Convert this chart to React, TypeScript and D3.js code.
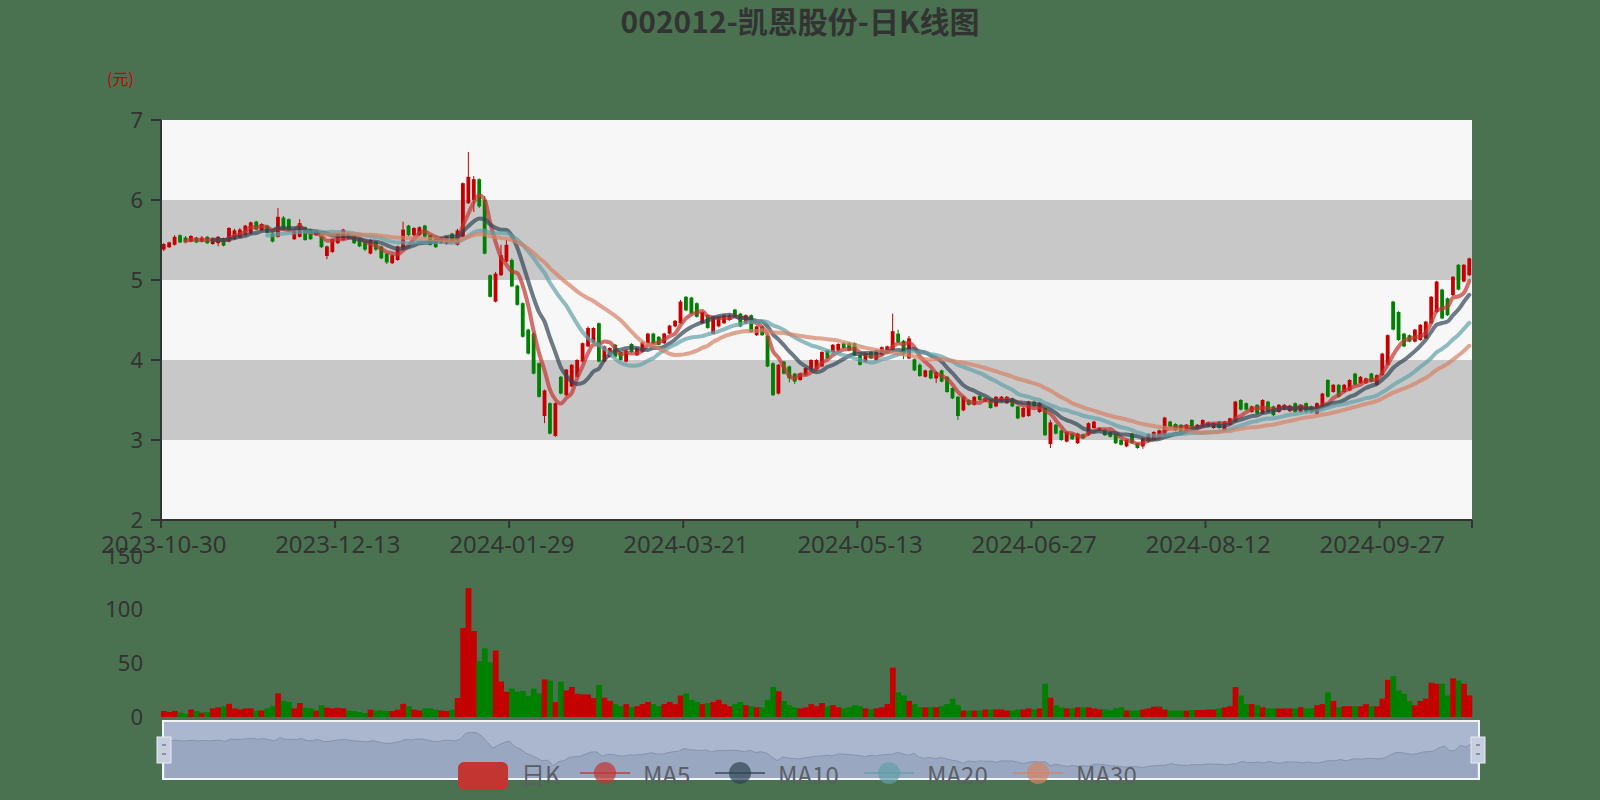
import React from 'react';
import * as d3 from 'd3';

// ---------- data ----------
const TITLE = '002012-凯恩股份-日K线图';
const UNIT = '(元)';
const START_DATE = '2023-10-30';
const HOLIDAYS = [
  '2024-01-01', '2024-02-09', '2024-02-12', '2024-02-13', '2024-02-14', '2024-02-15', '2024-02-16',
  '2024-04-04', '2024-04-05', '2024-05-01', '2024-05-02', '2024-05-03', '2024-06-10',
  '2024-09-16', '2024-09-17', '2024-10-01', '2024-10-02', '2024-10-03', '2024-10-04', '2024-10-07',
];
const LABEL_INTERVAL = 32;
const PRICE_TICKS = [2, 3, 4, 5, 6, 7];
const VOL_TICKS = [0, 50, 100, 150];
const LEGEND_NAMES = ['日K', 'MA5', 'MA10', 'MA20', 'MA30'];
const MA_PERIODS = [5, 10, 20, 30];

const OPEN = [
  5.38, 5.41, 5.44, 5.56, 5.53, 5.48, 5.53, 5.48, 5.54, 5.45,
  5.46, 5.52, 5.48, 5.51, 5.53, 5.56, 5.58, 5.73, 5.62, 5.68,
  5.58, 5.54, 5.78, 5.76, 5.51, 5.54, 5.66, 5.63, 5.56, 5.56,
  5.30, 5.35, 5.46, 5.50, 5.58, 5.56, 5.52, 5.48, 5.33, 5.48,
  5.42, 5.33, 5.21, 5.25, 5.38, 5.68, 5.56, 5.56, 5.68, 5.56,
  5.53, 5.46, 5.45, 5.58, 5.44, 5.54, 5.96, 6.00, 6.26, 6.00,
  5.06, 4.73, 5.06, 5.23, 5.25, 4.93, 4.71, 4.38, 4.33, 3.96,
  3.30, 3.46, 3.05, 3.79, 3.56, 3.67, 3.79, 3.98, 4.17, 4.22,
  4.46, 3.98, 4.04, 4.19, 4.10, 3.98, 4.20, 4.06, 4.10, 4.21,
  4.33, 4.29, 4.21, 4.33, 4.42, 4.46, 4.79, 4.78, 4.71, 4.46,
  4.56, 4.33, 4.42, 4.46, 4.50, 4.63, 4.58, 4.46, 4.56, 4.31,
  4.42, 4.30, 3.96, 3.58, 3.98, 3.92, 3.83, 3.75, 3.81, 3.88,
  3.88, 3.92, 4.12, 4.10, 4.12, 4.21, 4.21, 4.21, 4.06, 3.98,
  4.10, 4.00, 4.06, 4.08, 4.13, 4.33, 4.24, 4.02, 4.01, 3.94,
  3.79, 3.87, 3.77, 3.87, 3.79, 3.65, 3.54, 3.37, 3.50, 3.44,
  3.55, 3.48, 3.51, 3.42, 3.48, 3.46, 3.52, 3.42, 3.29, 3.30,
  3.48, 3.35, 3.40, 2.95, 3.19, 3.12, 2.98, 3.08, 2.96, 3.07,
  3.06, 3.15, 3.12, 3.13, 3.10, 3.07, 3.00, 2.92, 3.08, 2.96,
  2.92, 2.98, 3.00, 3.02, 3.06, 3.23, 3.20, 3.19, 3.10, 3.25,
  3.15, 3.17, 3.17, 3.15, 3.23, 3.12, 3.19, 3.23, 3.50, 3.46,
  3.35, 3.44, 3.33, 3.48, 3.42, 3.35, 3.38, 3.36, 3.46, 3.35,
  3.46, 3.42, 3.33, 3.42, 3.75, 3.60, 3.69, 3.60, 3.62, 3.83,
  3.71, 3.71, 3.83, 3.69, 3.81, 3.94, 4.73, 4.60, 4.33, 4.31,
  4.23, 4.25, 4.27, 4.46, 4.60, 4.88, 4.77, 4.81, 5.19, 4.98,
  5.06,
];
const CLOSE = [
  5.45, 5.47, 5.54, 5.47, 5.48, 5.55, 5.47, 5.53, 5.46, 5.52,
  5.54, 5.43, 5.65, 5.62, 5.63, 5.68, 5.72, 5.63, 5.70, 5.59,
  5.48, 5.79, 5.63, 5.62, 5.62, 5.71, 5.50, 5.51, 5.62, 5.41,
  5.42, 5.51, 5.58, 5.63, 5.51, 5.46, 5.42, 5.38, 5.50, 5.38,
  5.27, 5.22, 5.31, 5.42, 5.63, 5.56, 5.65, 5.66, 5.54, 5.44,
  5.41, 5.53, 5.54, 5.48, 5.62, 6.21, 6.29, 6.26, 5.92, 5.33,
  4.79, 5.08, 5.31, 5.44, 4.92, 4.69, 4.29, 4.08, 3.83, 3.54,
  3.62, 3.08, 3.46, 3.58, 3.88, 3.94, 4.00, 4.21, 4.40, 4.40,
  3.98, 4.17, 4.15, 4.04, 4.00, 4.12, 4.10, 4.15, 4.22, 4.33,
  4.21, 4.19, 4.33, 4.43, 4.49, 4.73, 4.62, 4.58, 4.54, 4.60,
  4.40, 4.54, 4.54, 4.56, 4.56, 4.54, 4.42, 4.56, 4.35, 4.42,
  4.31, 3.92, 3.56, 3.94, 3.83, 3.77, 3.73, 3.83, 3.90, 4.00,
  4.00, 4.10, 4.02, 4.19, 4.20, 4.15, 4.12, 4.06, 3.94, 4.08,
  4.02, 4.12, 4.16, 4.17, 4.36, 4.22, 4.07, 4.27, 3.87, 3.80,
  3.87, 3.77, 3.85, 3.73, 3.60, 3.52, 3.30, 3.54, 3.44, 3.54,
  3.50, 3.52, 3.40, 3.54, 3.54, 3.54, 3.42, 3.27, 3.40, 3.48,
  3.42, 3.46, 3.06, 3.22, 3.08, 3.00, 3.10, 3.01, 3.08, 3.02,
  3.21, 3.23, 3.15, 3.06, 3.04, 2.96, 2.94, 3.00, 2.96, 2.90,
  3.02, 3.07, 3.10, 3.12, 3.28, 3.17, 3.12, 3.10, 3.19, 3.16,
  3.19, 3.25, 3.22, 3.21, 3.15, 3.23, 3.27, 3.48, 3.38, 3.38,
  3.42, 3.33, 3.50, 3.35, 3.31, 3.44, 3.44, 3.43, 3.35, 3.44,
  3.35, 3.35, 3.46, 3.58, 3.54, 3.69, 3.54, 3.69, 3.75, 3.69,
  3.79, 3.77, 3.73, 3.81, 4.08, 4.31, 4.38, 4.25, 4.17, 4.23,
  4.38, 4.44, 4.48, 4.79, 4.98, 4.52, 4.56, 5.04, 4.88, 5.19,
  5.27,
];
const LOW = [
  5.36, 5.40, 5.43, 5.46, 5.47, 5.47, 5.46, 5.47, 5.45, 5.44,
  5.42, 5.42, 5.47, 5.50, 5.52, 5.55, 5.57, 5.62, 5.61, 5.58,
  5.47, 5.53, 5.62, 5.61, 5.50, 5.53, 5.49, 5.50, 5.55, 5.40,
  5.26, 5.34, 5.45, 5.49, 5.50, 5.45, 5.41, 5.36, 5.32, 5.36,
  5.26, 5.20, 5.20, 5.24, 5.36, 5.55, 5.55, 5.55, 5.53, 5.43,
  5.40, 5.45, 5.44, 5.47, 5.43, 5.53, 5.95, 5.85, 5.90, 5.32,
  4.78, 4.72, 5.05, 5.22, 4.91, 4.68, 4.28, 4.07, 3.82, 3.53,
  3.21, 3.07, 3.04, 3.57, 3.55, 3.66, 3.78, 3.97, 4.16, 4.21,
  3.97, 3.97, 4.03, 4.03, 3.99, 3.97, 4.09, 4.05, 4.09, 4.20,
  4.20, 4.18, 4.20, 4.32, 4.41, 4.45, 4.61, 4.57, 4.53, 4.45,
  4.39, 4.32, 4.41, 4.45, 4.49, 4.53, 4.41, 4.45, 4.34, 4.30,
  4.30, 3.91, 3.55, 3.57, 3.82, 3.72, 3.70, 3.74, 3.80, 3.85,
  3.87, 3.91, 4.01, 4.09, 4.11, 4.14, 4.11, 4.05, 3.93, 3.97,
  4.01, 3.99, 4.05, 4.07, 4.12, 4.21, 4.01, 4.01, 3.86, 3.79,
  3.78, 3.76, 3.71, 3.72, 3.59, 3.51, 3.25, 3.36, 3.43, 3.43,
  3.49, 3.47, 3.39, 3.41, 3.47, 3.45, 3.41, 3.26, 3.28, 3.29,
  3.41, 3.34, 3.05, 2.90, 3.07, 2.99, 2.97, 3.00, 2.95, 3.01,
  3.05, 3.14, 3.11, 3.05, 3.03, 2.95, 2.93, 2.91, 2.95, 2.89,
  2.89, 2.97, 2.99, 3.01, 3.05, 3.16, 3.11, 3.09, 3.09, 3.15,
  3.14, 3.16, 3.16, 3.14, 3.14, 3.11, 3.18, 3.22, 3.37, 3.37,
  3.34, 3.32, 3.32, 3.34, 3.30, 3.34, 3.37, 3.35, 3.34, 3.34,
  3.34, 3.34, 3.32, 3.41, 3.53, 3.59, 3.53, 3.59, 3.61, 3.68,
  3.70, 3.70, 3.72, 3.68, 3.80, 3.93, 4.37, 4.24, 4.16, 4.22,
  4.22, 4.24, 4.26, 4.45, 4.59, 4.51, 4.55, 4.80, 4.87, 4.97,
  5.05,
];
const HIGH = [
  5.46, 5.48, 5.56, 5.57, 5.55, 5.56, 5.54, 5.55, 5.55, 5.53,
  5.55, 5.53, 5.66, 5.64, 5.65, 5.69, 5.73, 5.74, 5.71, 5.69,
  5.59, 5.90, 5.80, 5.77, 5.63, 5.76, 5.67, 5.64, 5.63, 5.57,
  5.43, 5.52, 5.59, 5.64, 5.60, 5.57, 5.53, 5.49, 5.51, 5.49,
  5.43, 5.34, 5.32, 5.43, 5.73, 5.69, 5.66, 5.67, 5.69, 5.57,
  5.54, 5.54, 5.55, 5.59, 5.64, 6.22, 6.60, 6.30, 6.27, 6.05,
  5.07, 5.10, 5.44, 5.50, 5.27, 4.94, 4.72, 4.39, 4.35, 3.97,
  3.63, 3.47, 3.47, 3.80, 3.89, 3.95, 4.01, 4.22, 4.42, 4.41,
  4.47, 4.18, 4.16, 4.20, 4.11, 4.13, 4.21, 4.16, 4.23, 4.34,
  4.34, 4.30, 4.34, 4.44, 4.50, 4.75, 4.80, 4.79, 4.72, 4.61,
  4.57, 4.55, 4.55, 4.57, 4.57, 4.64, 4.59, 4.57, 4.57, 4.43,
  4.43, 4.31, 3.97, 3.95, 3.99, 3.93, 3.84, 3.84, 3.91, 4.01,
  4.01, 4.11, 4.13, 4.20, 4.21, 4.22, 4.22, 4.22, 4.07, 4.09,
  4.11, 4.13, 4.17, 4.18, 4.58, 4.38, 4.25, 4.30, 4.02, 3.96,
  3.88, 3.88, 3.86, 3.88, 3.80, 3.66, 3.55, 3.55, 3.51, 3.55,
  3.56, 3.53, 3.52, 3.55, 3.55, 3.55, 3.53, 3.43, 3.41, 3.49,
  3.49, 3.47, 3.41, 3.25, 3.20, 3.13, 3.11, 3.09, 3.09, 3.08,
  3.22, 3.24, 3.16, 3.14, 3.11, 3.08, 3.01, 3.01, 3.09, 2.97,
  3.03, 3.08, 3.11, 3.13, 3.29, 3.24, 3.21, 3.20, 3.20, 3.26,
  3.20, 3.26, 3.23, 3.22, 3.24, 3.24, 3.28, 3.49, 3.51, 3.47,
  3.43, 3.45, 3.51, 3.49, 3.43, 3.45, 3.45, 3.44, 3.47, 3.45,
  3.47, 3.43, 3.47, 3.59, 3.76, 3.70, 3.70, 3.70, 3.76, 3.84,
  3.80, 3.78, 3.84, 3.82, 4.09, 4.32, 4.74, 4.61, 4.34, 4.32,
  4.39, 4.45, 4.49, 4.80, 4.99, 4.89, 4.78, 5.05, 5.20, 5.20,
  5.28,
];
const VOLUME = [
  5.6, 4.6, 5.6, 4, 3, 7, 5.6, 4, 4.6, 8,
  9, 9.9, 12.3, 8, 7, 8, 8, 6, 6, 8,
  10, 22, 15, 14, 8, 13, 8.6, 8, 6, 11,
  8.6, 8, 8.6, 8, 6, 5.6, 4.6, 3.7, 6.8, 6,
  6, 5.6, 5.6, 6.8, 12.3, 10, 6.8, 6, 8, 8,
  6.8, 6, 5.6, 6.8, 17.6, 83, 120, 80, 52, 64,
  51, 62, 33, 23.5, 26.5, 23.5, 24.4, 19.5, 26.5, 22,
  35, 34, 14, 33, 24.7, 28, 21.6, 21, 21, 17.6,
  30, 18, 15, 12, 10, 12, 9, 10, 12, 14,
  12, 10, 12, 14, 12, 20, 22, 16, 14, 12,
  13, 14, 16, 12, 10, 12, 14, 11, 10, 9,
  9, 16, 28, 24, 15, 11, 9, 8, 9, 12,
  10, 13, 10, 11, 9, 8, 9, 11, 10, 8,
  7, 8, 9, 12, 46, 23, 20, 15, 12, 9,
  9, 9, 9, 10, 12, 17, 11, 6, 6, 6,
  6, 7, 7, 7, 7, 6, 6, 7, 7, 8,
  7, 8, 31, 18, 11, 9, 8, 8, 9, 9,
  9, 8, 7, 7, 6, 8, 9, 6, 6, 6,
  7, 8, 9.6, 9.6, 7, 6, 6, 6, 6, 6.5,
  6.5, 6.5, 7, 7, 8, 9, 10, 27.8, 20, 12,
  12, 11, 9, 8, 8, 8, 8, 8, 8, 9,
  8, 8, 11, 12, 23, 15, 9, 10, 10, 10,
  10, 12, 10, 10, 17, 34.6, 38, 24.7, 21.6, 15,
  11, 15, 17, 32, 31, 31, 20, 36, 34, 31,
  20,
];

// ---------- styles ----------
const W = 1600;
const H = 800;
const BG = '#4a7250';
const UP = '#c40000';
const DOWN = '#008000';
const MA_COLORS = ['#c23531', '#2f4554', '#61a0a8', '#d48265'];
const BAND_LIGHT = '#f7f7f7';
const BAND_DARK = '#c8c8c8';
const AXIS = '#333';
const FONT = '"Noto Sans", "Noto Sans CJK SC", sans-serif';

const PLOT = { left: 161, right: 1472, top: 120, bottom: 520 };
const VOLG = { top: 556, bottom: 717 };
const SLIDER = { left: 163, right: 1479, top: 721, bottom: 779 };

function tradingDays(start: string, count: number, holidays: string[]) {
  const hs = new Set(holidays);
  const out: string[] = [];
  const d = new Date(start + 'T00:00:00Z');
  while (out.length < count) {
    const wd = d.getUTCDay();
    const s = d.toISOString().slice(0, 10);
    if (wd !== 0 && wd !== 6 && !hs.has(s)) out.push(s);
    d.setUTCDate(d.getUTCDate() + 1);
  }
  return out;
}

function movingAverage(values: number[], n: number): (number | null)[] {
  return values.map((_, i) => {
    if (i < n - 1) return null;
    let s = 0;
    for (let k = i - n + 1; k <= i; k++) s += values[k];
    return s / n;
  });
}

export default function App() {
  const N = CLOSE.length;
  const dates = tradingDays(START_DATE, N, HOLIDAYS);
  const idx = d3.range(N);

  const x = d3.scaleBand<number>().domain(idx).range([PLOT.left, PLOT.right]).padding(0);
  const bw = x.bandwidth();
  const cx = (i: number) => (x(i) as number) + bw / 2;
  const y = d3.scaleLinear().domain([2, 7]).range([PLOT.bottom, PLOT.top]);
  const yv = d3.scaleLinear().domain([0, 150]).range([VOLG.bottom, VOLG.top]);

  const mas = MA_PERIODS.map((p) => movingAverage(CLOSE, p));
  const line = d3
    .line<number | null>()
    .defined((d) => d != null)
    .x((_, i) => cx(i))
    .y((d) => y(d as number))
    .curve(d3.curveMonotoneX);

  // slider data shadow
  const cMin = d3.min(CLOSE) as number;
  const cMax = d3.max(CLOSE) as number;
  const off = (cMax - cMin) * 0.3;
  const xs = d3.scaleLinear().domain([0, N - 1]).range([SLIDER.left + 2, SLIDER.right - 2]);
  const ys = d3.scaleLinear().domain([cMin - off, cMax + off]).range([SLIDER.bottom - 1, SLIDER.top + 1]);
  const shadowArea = d3
    .area<number>()
    .x((_, i) => xs(i))
    .y0(SLIDER.bottom - 1)
    .y1((d) => ys(d))
    .curve(d3.curveLinear);
  const shadowLine = d3
    .line<number>()
    .x((_, i) => xs(i))
    .y((d) => ys(d));

  const bandPairs = d3.pairs(PRICE_TICKS);

  const labelIdx = idx.filter((i) => i % LABEL_INTERVAL === 0);
  const tickIdx = [...labelIdx, N];

  // legend layout
  const legendText = [39, 52, 66, 66, 66];
  const iconW = 50;
  const legendItems: { name: string; x: number; tx: number }[] = [];
  let lx = 458;
  LEGEND_NAMES.forEach((name, k) => {
    legendItems.push({ name, x: lx, tx: lx + iconW + 13 });
    lx += iconW + 13 + legendText[k] + 20;
  });
  const legendY = 776;

  return (
    <svg
      width={W}
      height={H}
      style={{ position: 'fixed', left: 0, top: 0, display: 'block' }}
      fontFamily={FONT}
    >
      <rect x={0} y={0} width={W} height={H} fill={BG} />

      {/* title */}
      <text x={800} y={33} textAnchor="middle" fontSize={30} fontWeight="bold" fill="#333"
        fontFamily='"Noto Sans CJK SC", "Noto Sans", sans-serif'>
        {TITLE}
      </text>
      <text x={107} y={85} fontSize={16} fill="#cc0000" fontFamily='"Noto Sans CJK SC", sans-serif'>
        {UNIT}
      </text>

      {/* split areas */}
      {bandPairs.map(([a, b], k) => (
        <rect key={k} x={PLOT.left} y={y(b)} width={PLOT.right - PLOT.left} height={y(a) - y(b)}
          fill={k % 2 === 0 ? BAND_LIGHT : BAND_DARK} />
      ))}

      {/* candles */}
      {idx.map((i) => {
        const o = OPEN[i], c = CLOSE[i];
        const col = c >= o ? UP : DOWN;
        const bodyW = Math.max(1, bw * 0.7);
        const top = y(Math.max(o, c));
        const bot = y(Math.min(o, c));
        return (
          <g key={i}>
            <line x1={cx(i)} x2={cx(i)} y1={y(HIGH[i])} y2={y(LOW[i])} stroke={col} strokeWidth={1} />
            <rect x={cx(i) - bodyW / 2} y={top} width={bodyW} height={Math.max(1, bot - top)} fill={col} />
          </g>
        );
      })}

      {/* MA lines */}
      {mas.map((m, k) => (
        <path key={k} d={line(m) || ''} fill="none" stroke={MA_COLORS[k]} strokeWidth={4}
          strokeOpacity={0.7} strokeLinejoin="round" strokeLinecap="round" />
      ))}

      {/* y axis */}
      <line x1={PLOT.left} x2={PLOT.left} y1={PLOT.top} y2={PLOT.bottom} stroke={AXIS} strokeWidth={2} />
      {PRICE_TICKS.map((t) => (
        <g key={t}>
          <line x1={PLOT.left - 10} x2={PLOT.left} y1={y(t)} y2={y(t)} stroke={AXIS} strokeWidth={2} />
          <text x={143} y={y(t)} dy="0.35em" textAnchor="end" fontSize={22} fill="#333">{t}</text>
        </g>
      ))}

      {/* x axis */}
      <line x1={PLOT.left} x2={PLOT.right} y1={PLOT.bottom} y2={PLOT.bottom} stroke={AXIS} strokeWidth={2} />
      {tickIdx.map((i) => {
        const xx = i < N ? (x(i) as number) : PLOT.right;
        return <line key={i} x1={xx} x2={xx} y1={PLOT.bottom} y2={PLOT.bottom + 8} stroke={AXIS} strokeWidth={2} />;
      })}
      {labelIdx.map((i) => (
        <text key={i} x={cx(i)} y={553} textAnchor="middle" fontSize={24} fill="#333">{dates[i]}</text>
      ))}

      {/* volume */}
      {idx.map((i) => (
        <rect key={i} x={x(i) as number} y={yv(VOLUME[i])} width={bw + 0.3}
          height={yv(0) - yv(VOLUME[i])} fill={CLOSE[i] >= OPEN[i] ? UP : DOWN} />
      ))}
      {VOL_TICKS.map((t) => (
        <text key={t} x={143} y={yv(t)} dy="0.35em" textAnchor="end" fontSize={22} fill="#333">{t}</text>
      ))}

      {/* data zoom slider */}
      <rect x={SLIDER.left} y={SLIDER.top} width={SLIDER.right - SLIDER.left} height={SLIDER.bottom - SLIDER.top}
        fill="#aab7ce" stroke="#f2f4f8" strokeWidth={2} />
      <path d={shadowArea(CLOSE) || ''} fill="#8d9bb4" fillOpacity={0.55} />
      <path d={shadowLine(CLOSE) || ''} fill="none" stroke="#8593ac" strokeWidth={1} />
      {[SLIDER.left + 2, SLIDER.right].map((hx, k) => (
        <g key={k}>
          <rect x={hx - 8} y={737} width={14} height={26} fill="#c5cfdf" stroke="#e6ebf2" strokeWidth={1} />
          <line x1={hx - 3} x2={hx + 1} y1={745} y2={745} stroke="#555" strokeWidth={1} />
          <line x1={hx - 3} x2={hx + 1} y1={754} y2={754} stroke="#555" strokeWidth={1} />
        </g>
      ))}

      {/* legend */}
      {legendItems.map((it, k) => (
        <g key={it.name}>
          {k === 0 ? (
            <rect x={it.x} y={legendY - 14} width={iconW} height={28} rx={6} fill={MA_COLORS[0]} />
          ) : (
            <g>
              <line x1={it.x} x2={it.x + iconW} y1={legendY - 3} y2={legendY - 3} stroke={MA_COLORS[k - 1]}
                strokeWidth={2} strokeOpacity={0.7} />
              <circle cx={it.x + iconW / 2} cy={legendY - 3} r={11} fill={MA_COLORS[k - 1]} fillOpacity={0.7} />
            </g>
          )}
          <text x={it.tx} y={legendY} dy="0.35em" fontSize={24} fill="#5a5f66"
            fontFamily='"Noto Sans CJK SC", "Noto Sans", sans-serif'>
            {it.name}
          </text>
        </g>
      ))}
    </svg>
  );
}
